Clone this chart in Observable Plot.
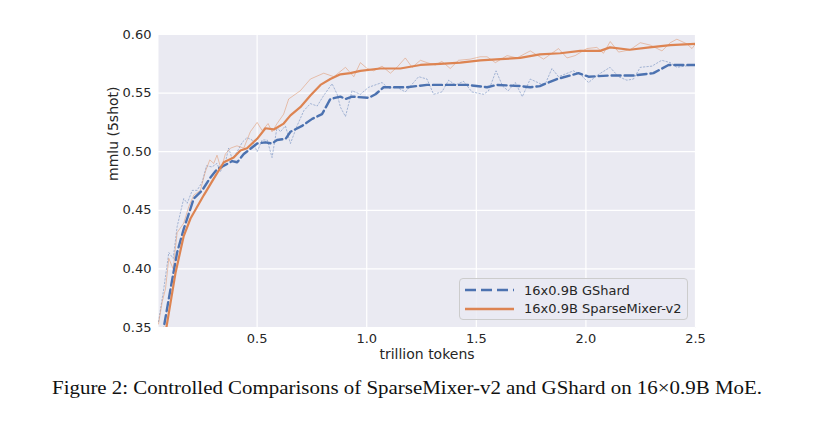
<!DOCTYPE html>
<html>
<head>
<meta charset="utf-8">
<script src="https://cdn.jsdelivr.net/npm/d3@7"></script>
<script src="https://cdn.jsdelivr.net/npm/@observablehq/plot@0.6"></script>
<style>
  body { margin: 0; background: #fff; }
  #wrap { position: relative; width: 813px; height: 425px; }
  #legend { position: absolute; left: 459px; top: 278px; width: 227px; height: 40px;
    border: 1px solid #cccccc; border-radius: 4px; background: rgba(234,234,242,0.8);
    font-family: "DejaVu Sans", sans-serif; font-size: 13px; color: #262626; }
  .row { position: absolute; left: 0; height: 18px; display: flex; align-items: center; }
  .row svg { margin-left: 5px; margin-right: 10px; }
  #caption { position: absolute; left: 0; top: 365px; }
</style>
</head>
<body>
<div id="wrap">
  <div id="chart"></div>
  <div id="legend"></div>
  <div id="caption"></div>
</div>
<script>
// ---- data ----
const xTicks = [0.5, 1.0, 1.5, 2.0, 2.5];
const yTicks = [0.35, 0.40, 0.45, 0.50, 0.55, 0.60];
const seriesNames = ["16x0.9B GShard", "16x0.9B SparseMixer-v2"];
const seriesColors = ["#4c72b0", "#dd8452"];
const xLabel = "trillion tokens";
const yLabel = "mmlu (5shot)";
const captionText = "Figure 2: Controlled Comparisons of SparseMixer-v2 and GShard on 16\u00d70.9B MoE.";

// GShard raw (faint dotted)
const gshardRawX = [0.050,0.074,0.097,0.117,0.135,0.165,0.181,0.204,0.226,0.249,0.269,0.294,0.317,0.332,0.355,0.370,0.386,0.409,0.432,0.454,0.477,0.500,0.523,0.546,0.568,0.591,0.606,0.629,0.652,0.682,0.713,0.743,0.774,0.804,0.842,0.865,0.880,0.903,0.933,0.971,1.009,1.070,1.100,1.138,1.176,1.237,1.275,1.305,1.343,1.374,1.404,1.442,1.480,1.533,1.556,1.590,1.620,1.645,1.678,1.710,1.746,1.792,1.815,1.845,1.875,1.943,1.974,2.012,2.050,2.110,2.149,2.187,2.217,2.248,2.301,2.346,2.385,2.415,2.490];
const gshardRawY = [0.355,0.383,0.414,0.409,0.436,0.460,0.456,0.467,0.467,0.474,0.488,0.487,0.490,0.483,0.491,0.503,0.494,0.500,0.508,0.512,0.510,0.500,0.510,0.510,0.495,0.521,0.517,0.522,0.507,0.522,0.535,0.541,0.539,0.548,0.558,0.549,0.538,0.530,0.552,0.549,0.555,0.559,0.554,0.555,0.551,0.564,0.562,0.549,0.551,0.561,0.557,0.560,0.551,0.549,0.552,0.569,0.556,0.552,0.559,0.547,0.562,0.558,0.558,0.571,0.564,0.569,0.566,0.559,0.565,0.572,0.564,0.561,0.562,0.572,0.573,0.578,0.576,0.572,0.574];

// SparseMixer raw (faint solid)
const sparseRawX = [0.050,0.067,0.082,0.097,0.117,0.135,0.165,0.188,0.211,0.241,0.264,0.284,0.302,0.317,0.336,0.355,0.378,0.408,0.439,0.469,0.500,0.523,0.550,0.568,0.591,0.621,0.644,0.697,0.743,0.804,0.850,0.903,0.941,0.971,1.002,1.032,1.070,1.108,1.138,1.176,1.207,1.245,1.275,1.313,1.343,1.381,1.419,1.473,1.518,1.549,1.587,1.640,1.685,1.746,1.807,1.875,1.914,1.951,2.004,2.050,2.080,2.111,2.149,2.202,2.248,2.293,2.347,2.385,2.415,2.461,2.484,2.500];
const sparseRawY = [0.353,0.372,0.383,0.409,0.400,0.431,0.439,0.453,0.463,0.467,0.483,0.493,0.490,0.497,0.485,0.498,0.503,0.505,0.503,0.517,0.525,0.518,0.524,0.517,0.524,0.532,0.545,0.552,0.562,0.567,0.564,0.572,0.564,0.576,0.571,0.569,0.573,0.567,0.572,0.580,0.572,0.578,0.576,0.574,0.577,0.571,0.578,0.579,0.581,0.581,0.576,0.582,0.580,0.586,0.579,0.588,0.580,0.582,0.588,0.589,0.584,0.594,0.585,0.587,0.593,0.591,0.586,0.593,0.596,0.592,0.588,0.592];

// GShard smoothed (dashed)
const gshardSmoothX = [0.070,0.074,0.105,0.135,0.165,0.211,0.249,0.287,0.317,0.348,0.386,0.409,0.439,0.500,0.538,0.568,0.591,0.630,0.652,0.705,0.751,0.796,0.834,0.880,0.903,0.933,1.009,1.040,1.077,1.184,1.275,1.381,1.458,1.549,1.594,1.700,1.746,1.790,1.868,1.966,2.012,2.110,2.217,2.308,2.377,2.500];
const gshardSmoothY = [0.342,0.350,0.383,0.414,0.434,0.460,0.467,0.478,0.485,0.488,0.492,0.491,0.498,0.507,0.508,0.507,0.510,0.511,0.517,0.522,0.528,0.532,0.545,0.547,0.545,0.547,0.546,0.549,0.555,0.555,0.557,0.557,0.557,0.555,0.557,0.556,0.555,0.556,0.562,0.567,0.564,0.565,0.565,0.567,0.574,0.574];

// SparseMixer smoothed (solid)
const sparseSmoothX = [0.084,0.086,0.128,0.165,0.196,0.257,0.302,0.348,0.393,0.424,0.454,0.500,0.538,0.576,0.621,0.652,0.697,0.743,0.789,0.834,0.880,0.925,0.971,1.062,1.153,1.245,1.336,1.427,1.518,1.609,1.700,1.790,1.883,1.974,2.065,2.110,2.200,2.290,2.385,2.500];
const sparseSmoothY = [0.342,0.350,0.397,0.428,0.443,0.463,0.477,0.491,0.495,0.501,0.503,0.511,0.520,0.519,0.524,0.531,0.538,0.548,0.557,0.562,0.566,0.567,0.569,0.571,0.571,0.574,0.575,0.576,0.578,0.579,0.580,0.583,0.584,0.586,0.586,0.589,0.587,0.589,0.591,0.592];

// ---- build tables ----
const toRows = (xs, ys) => xs.map((x, i) => ({x, y: ys[i]}));
const gRaw = toRows(gshardRawX, gshardRawY);
const sRaw = toRows(sparseRawX, sparseRawY);
const gSm = toRows(gshardSmoothX, gshardSmoothY);
const sSm = toRows(sparseSmoothX, sparseSmoothY);

const font = '"DejaVu Sans", sans-serif';
const dashed = "9,4";
const chart = Plot.plot({
  width: 813, height: 365,
  marginLeft: 158, marginRight: 118, marginTop: 34, marginBottom: 38,
  style: {fontFamily: font, fontSize: "13px", color: "#262626", background: "white"},
  x: {domain: [0.05, 2.5]},
  y: {domain: [0.35, 0.60]},
  marks: [
    Plot.frame({fill: "#eaeaf2", stroke: null}),
    Plot.gridX(xTicks, {stroke: "white", strokeOpacity: 1, strokeWidth: 1.2}),
    Plot.gridY(yTicks, {stroke: "white", strokeOpacity: 1, strokeWidth: 1.2}),
    Plot.axisX(xTicks, {tickSize: 0, tickPadding: 6, tickFormat: d3.format(".1f"), label: null, fontSize: 13}),
    Plot.axisY(yTicks, {tickSize: 0, tickPadding: 7, tickFormat: d3.format(".2f"), label: null, fontSize: 13}),
    Plot.text([xLabel], {frameAnchor: "bottom", dy: 27, lineAnchor: "middle", fontSize: 14, fill: "#262626"}),
    Plot.text([yLabel], {frameAnchor: "left", dx: -45, rotate: -90, lineAnchor: "middle", fontSize: 14, fill: "#262626"}),
    Plot.line(gRaw, {x: "x", y: "y", stroke: seriesColors[0], strokeOpacity: 0.45, strokeWidth: 1, strokeDasharray: "1.5,2", clip: true}),
    Plot.line(sRaw, {x: "x", y: "y", stroke: seriesColors[1], strokeOpacity: 0.45, strokeWidth: 1, clip: true}),
    Plot.line(gSm, {x: "x", y: "y", stroke: seriesColors[0], strokeWidth: 2.4, strokeDasharray: dashed, clip: true}),
    Plot.line(sSm, {x: "x", y: "y", stroke: seriesColors[1], strokeWidth: 2.2, clip: true})
  ]
});
document.getElementById("chart").appendChild(chart);

// ---- legend ----
const legend = document.getElementById("legend");
seriesNames.forEach((name, i) => {
  const row = document.createElement("div");
  row.className = "row";
  row.style.top = (2 + i * 18.5) + "px";
  const dash = i === 0 ? 'stroke-dasharray="11,5"' : "";
  row.innerHTML = `<svg width="49" height="6"><line x1="0" x2="49" y1="3" y2="3" stroke="${seriesColors[i]}" stroke-width="2.6" ${dash}/></svg><span>${name}</span>`;
  legend.appendChild(row);
});

// ---- caption ----
document.getElementById("caption").innerHTML =
  `<svg width="813" height="50"><text x="407" y="29" text-anchor="middle" textLength="710" lengthAdjust="spacingAndGlyphs" font-family="'Liberation Serif', serif" font-size="18" fill="#111">${captionText}</text></svg>`;
</script>
</body>
</html>
